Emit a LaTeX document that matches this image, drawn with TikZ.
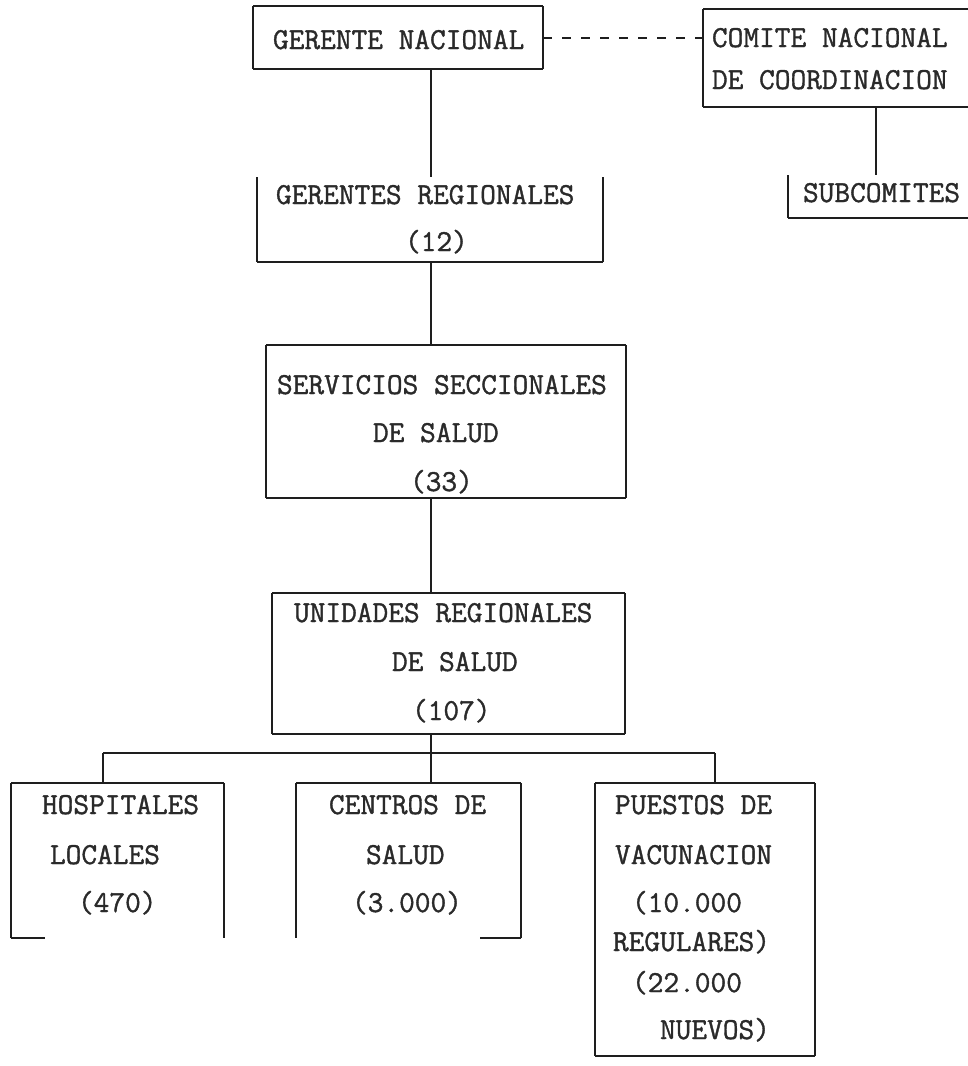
\documentclass[tikz,border=0pt]{standalone}
\usepackage{fontspec}
\setmonofont[FakeBold=1.2]{Latin Modern Mono}
\definecolor{ink}{HTML}{1E1E1E}
\definecolor{typeink}{HTML}{2A2A2A}
\begin{document}
\begin{tikzpicture}[x=1pt,y=-1pt,
  font=\fontsize{30.5}{36}\selectfont\ttfamily,
  frame/.style={draw=none,inner sep=0pt,outer sep=0pt},
  hedge/.style={draw=ink,line width=2.4pt},
  vedge/.style={draw=ink,line width=1.4pt},
  conn/.style={draw=ink,line width=1.3pt},
  dashline/.style={draw=ink,line width=2pt,dash pattern=on 9pt off 10pt},
  lbl/.style={anchor=base west,inner sep=0pt,outer sep=0pt,text=typeink}]
\useasboundingbox (0,0) rectangle (968,1066);
\clip (0,0) rectangle (968,1066);
\fill[white] (0,0) rectangle (968,1066);

% box frames (shapes only)
\node[frame,minimum width=290pt,minimum height=63pt]  (gn)  at (398,37.5) {};
\node[frame,minimum width=300pt,minimum height=98pt]  (cn)  at (853,58) {};
\node[frame,minimum width=224pt,minimum height=43pt]  (sub) at (900,196.5) {};
\node[frame,minimum width=346pt,minimum height=85pt]  (gr)  at (430,219.5) {};
\node[frame,minimum width=360pt,minimum height=153pt] (ss)  at (446,421.5) {};
\node[frame,minimum width=353pt,minimum height=141pt] (ur)  at (448.5,663.5) {};
\node[frame,minimum width=213pt,minimum height=155pt] (hlb) at (117.5,860.5) {};
\node[frame,minimum width=225pt,minimum height=155pt] (cs)  at (408.5,860.5) {};
\node[frame,minimum width=220pt,minimum height=273pt] (pv)  at (705,919.5) {};

% connector guides
\coordinate (spine) at (431,0);
\coordinate (cnx) at (876,0);
\coordinate (brL) at (103,753);
\coordinate (brM) at (431,753);
\coordinate (brR) at (715,753);

% GERENTE NACIONAL
\draw[vedge] (gn.north west) -- (gn.south west) (gn.north east) -- (gn.south east);
\draw[hedge] (gn.north west) -- (gn.north east) (gn.south west) -- (gn.south east);
% COMITE
\draw[vedge] (cn.north west) -- (cn.south west);
\draw[hedge] (cn.north west) -- (cn.north east) (cn.south west) -- (cn.south east);
% SUBCOMITES
\draw[vedge] (sub.north west) -- (sub.south west);
\draw[hedge] (sub.south west) -- (sub.south east);
% GERENTES REGIONALES
\draw[vedge] (gr.north west) -- (gr.south west) (gr.north east) -- (gr.south east);
\draw[hedge] (gr.south west) -- (gr.south east);
% SERVICIOS
\draw[vedge] (ss.north west) -- (ss.south west) (ss.north east) -- (ss.south east);
\draw[hedge] (ss.north west) -- (ss.north east) (ss.south west) -- (ss.south east);
% UNIDADES
\draw[vedge] (ur.north west) -- (ur.south west) (ur.north east) -- (ur.south east);
\draw[hedge] (ur.north west) -- (ur.north east) (ur.south west) -- (ur.south east);
% HOSPITALES
\draw[vedge] (hlb.north west) -- (hlb.south west) (hlb.north east) -- (hlb.south east);
\draw[hedge] (hlb.north west) -- (hlb.north east) (hlb.south west) -- ++(34,0);
% CENTROS
\draw[vedge] (cs.north west) -- (cs.south west) (cs.north east) -- (cs.south east);
\draw[hedge] (cs.north west) -- (cs.north east) (cs.south east) -- ++(-41,0);
% PUESTOS
\draw[vedge] (pv.north west) -- (pv.south west) (pv.north east) -- (pv.south east);
\draw[hedge] (pv.north west) -- (pv.north east) (pv.south west) -- (pv.south east);

% connectors
\draw[dashline] (gn.east) -- (gn.east -| cn.west);
\draw[conn] (cnx |- cn.south) -- (cnx |- sub.north);
\draw[conn] (spine |- gn.south) -- (spine |- gr.north);
\draw[conn] (spine |- gr.south) -- (spine |- ss.north);
\draw[conn] (spine |- ss.south) -- (spine |- ur.north);
\draw[conn] (spine |- ur.south) -- (brM) -- (spine |- cs.north);
\draw[hedge] (brL) -- (brR);
\draw[conn] (brL) -- (brL |- hlb.north);
\draw[conn] (brR) -- (brR |- pv.north);

% texts
\node[lbl] (t1) at (273,49) {GERENTE NACIONAL};
\node[lbl] (t2) at (712,47) {COMITE NACIONAL};
\node[lbl] (t3) at (712,89) {DE COORDINACION};
\node[lbl] (t4) at (803,202) {SUBCOMITES};
\node[lbl] (t5) at (276,204) {GERENTES REGIONALES};
\node[lbl] (t6) at (405,251) {(12)};
\node[lbl] (t7) at (277,394) {SERVICIOS SECCIONALES};
\node[lbl] (t8) at (373,442) {DE SALUD};
\node[lbl] (t9) at (410,491) {(33)};
\node[lbl] (t10) at (294,622) {UNIDADES REGIONALES};
\node[lbl] (t11) at (392,671) {DE SALUD};
\node[lbl] (t12) at (412,720) {(107)};
\node[lbl] (t13) at (42,814) {HOSPITALES};
\node[lbl] (t14) at (50,864) {LOCALES};
\node[lbl] (t15) at (78,912) {(470)};
\node[lbl] (t16) at (329,814) {CENTROS DE};
\node[lbl] (t17) at (366,864) {SALUD};
\node[lbl] (t18) at (352,912) {(3.000)};
\node[lbl] (t19) at (615,814) {PUESTOS DE};
\node[lbl] (t20) at (615,864) {VACUNACION};
\node[lbl] (t21) at (632,912) {(10.000};
\node[lbl] (t22) at (613,951) {REGULARES)};
\node[lbl] (t23) at (632,992) {(22.000};
\node[lbl] (t24) at (660,1039) {NUEVOS)};
\end{tikzpicture}
\end{document}
